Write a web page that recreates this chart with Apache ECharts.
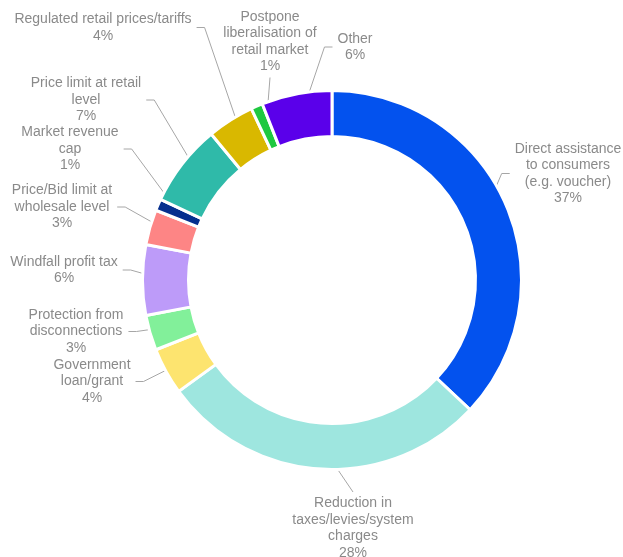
<!DOCTYPE html>
<html>
<head>
<meta charset="utf-8">
<script src="https://cdn.jsdelivr.net/npm/echarts@6.0.0/dist/echarts.min.js"></script>
<style>
    html, body { margin: 0; background: #fff; }
    #chart { width: 623px; height: 557px; }
</style>
</head>
<body>
<div id="chart"></div>
<script>
    // data, clockwise from 12 o'clock
    const categories = [
        'Direct assistance\nto consumers\n(e.g. voucher)',
        'Reduction in\ntaxes/levies/system\ncharges',
        'Government\nloan/grant',
        'Protection from\ndisconnections',
        'Windfall profit tax',
        'Price/Bid limit at\nwholesale level',
        'Market revenue\ncap',
        'Price limit at retail\nlevel',
        'Regulated retail prices/tariffs',
        'Postpone\nliberalisation of\nretail market',
        'Other'
    ];
    const shares = [37, 28, 4, 3, 6, 3, 1, 7, 4, 1, 6];

    const colors = ['#0352ee', '#9ee6df', '#fde46f', '#82f09a', '#bd9bf9', '#fd8585',
        '#052f8e', '#2fbaa9', '#d9b800', '#1fc840', '#5a00ea'];

    // where each label block sits (centre) and which side the leader joins
    const labelSpots = [
        [568, 173.5, 'left'],
        [353, 528, 'top'],
        [92, 381.5, 'right'],
        [76, 331.5, 'right'],
        [64, 270, 'right'],
        [62, 207, 'right'],
        [70, 149, 'right'],
        [86, 100, 'right'],
        [103, 27.5, 'right'],
        [270, 41.5, 'bottom'],
        [355, 47, 'left']
    ];

    const pieData = categories.map((c, i) => ({ name: c, value: shares[i] }));

    let chart = echarts.init(document.getElementById('chart'));
    let options = {
        animation: false,
        color: colors,
        series: [
            {
                type: 'pie',
                center: [332, 280],
                radius: [143.5, 189.5],
                startAngle: 90,
                clockwise: true,
                silent: true,
                avoidLabelOverlap: false,
                itemStyle: {
                    borderColor: '#fff',
                    borderWidth: 3
                },
                label: { show: false },
                labelLine: { show: false },
                data: pieData
            },
            {
                // invisible copy at mid-ring radius, only carries the labels
                type: 'pie',
                center: [332, 280],
                radius: [143.5, 166],
                startAngle: 90,
                clockwise: true,
                silent: true,
                avoidLabelOverlap: false,
                itemStyle: { color: 'rgba(0,0,0,0)' },
                label: {
                    show: true,
                    position: 'outside',
                    formatter: '{b}\n{c}%',
                    color: '#8a8a8a',
                    fontFamily: 'Liberation Sans',
                    fontSize: 14,
                    lineHeight: 16.5,
                    align: 'center'
                },
                labelLine: {
                    show: true,
                    length: 10,
                    length2: 10,
                    lineStyle: { color: '#a6a6a6', width: 1, opacity: 1 }
                },
                labelLayout: function (p) {
                    const spot = labelSpots[p.dataIndex];
                    const w = p.labelRect.width, h = p.labelRect.height;
                    const cx = spot[0], cy = spot[1];
                    const start = p.labelLinePoints ? p.labelLinePoints[0] : [cx, cy];
                    let end, bend;
                    if (spot[2] === 'left') {
                        end = [cx - w / 2 - 5, cy];
                        bend = [end[0] - 8, cy];
                    } else if (spot[2] === 'right') {
                        end = [cx + w / 2 + 5, cy];
                        bend = [end[0] + 8, cy];
                    } else if (spot[2] === 'top') {
                        end = [cx, cy - h / 2 - 3];
                        bend = end;
                    } else {
                        end = [cx, cy + h / 2 + 3];
                        bend = end;
                    }
                    return {
                        x: cx,
                        y: cy,
                        align: 'center',
                        verticalAlign: 'middle',
                        labelLinePoints: [start, bend, end]
                    };
                },
                emphasis: { disabled: true },
                data: pieData
            }
        ]
    };
    chart.setOption(options);

    window.addEventListener('resize', () => {
        chart.resize();
    });
</script>
</body>
</html>
